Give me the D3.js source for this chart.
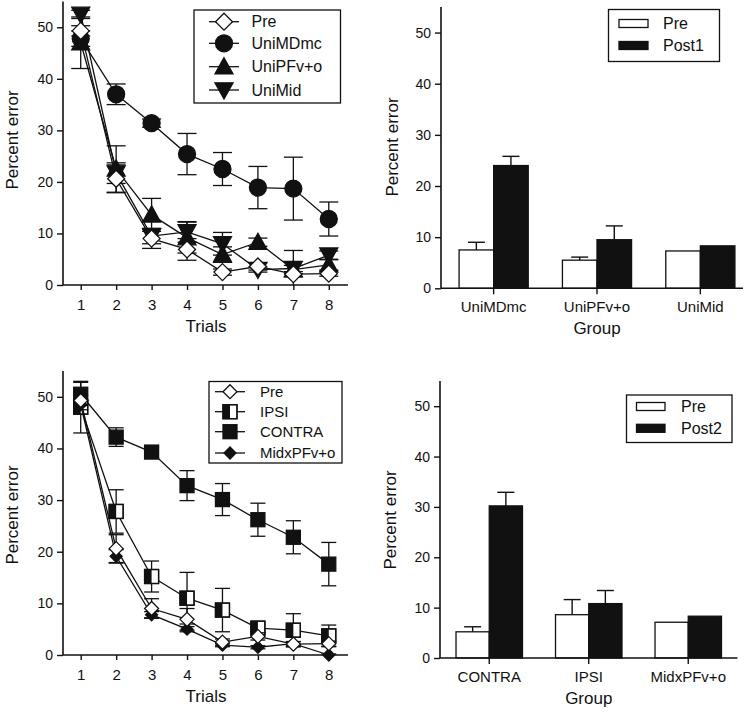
<!DOCTYPE html>
<html><head><meta charset="utf-8">
<script src="https://cdn.jsdelivr.net/npm/d3@7"></script>
<style>
body{margin:0;background:#fff}
text{font-family:"Liberation Sans",Arial,Helvetica,sans-serif;fill:#111}
</style>
</head><body>
<svg id="c" width="752" height="725"></svg>
<script>
// ---------- data ----------
const trials = [1,2,3,4,5,6,7,8];
const yTicks = [0,10,20,30,40,50];

// Panel A (top-left)
const seriesA = ["Pre","UniMDmc","UniPFv+o","UniMid"];
const preMean   = [49.3, 20.6, 9.0, 6.9, 2.5, 3.6, 2.1, 2.2];
const preErr    = [1.0, 2.7, 1.9, 2.1, 0.6, 0.7, 0.5, 0.5];
const mdmcMean  = [47.8, 37.0, 31.4, 25.4, 22.5, 18.9, 18.7, 12.8];
const mdmcErr   = [1.5, 2.0, 0.8, 4.0, 3.2, 4.1, 6.1, 3.3];
const pfvoMean  = [47.0, 22.5, 13.6, 9.2, 5.9, 8.3, 3.0, 3.9];
const pfvoErr   = [5.0, 4.5, 3.2, 3.0, 1.5, 0.8, 0.8, 1.0];
const midMean   = [52.5, 21.7, 9.5, 10.3, 8.0, 3.0, 3.2, 5.8];
const midErr    = [0.8, 2.0, 1.5, 2.0, 2.2, 0.5, 3.5, 0.8];

// Panel C (bottom-left)
const seriesC = ["Pre","IPSI","CONTRA","MidxPFv+o"];
const ipsiMean   = [48.0, 27.8, 15.2, 11.0, 8.7, 5.2, 4.8, 3.7];
const ipsiErr    = [5.0, 4.2, 3.0, 5.0, 4.2, 0.8, 3.2, 2.1];
const contraMean = [50.5, 42.2, 39.3, 32.8, 30.1, 26.2, 22.8, 17.6];
const contraErr  = [2.3, 1.8, 1.0, 2.9, 3.1, 3.2, 3.2, 4.2];
const midxMean   = [48.5, 19.1, 7.8, 5.0, 1.9, 1.5, 2.2, 0.0];
const midxErr    = [1.0, 1.3, 0.6, 0.5, 0.3, 0.3, 0.4, 0.2];

// Panel B (top-right)
const groupsB = ["UniMDmc","UniPFv+o","UniMid"];
const barsB = ["Pre","Post1"];
const preB  = [7.5, 5.5, 7.3];
const preBErr = [1.5, 0.6, 0];
const post1 = [24.0, 9.5, 8.3];
const post1Err = [1.8, 2.7, 0];

// Panel D (bottom-right)
const groupsD = ["CONTRA","IPSI","MidxPFv+o"];
const barsD = ["Pre","Post2"];
const preD  = [5.2, 8.6, 7.1];
const preDErr = [1.0, 3.0, 0];
const post2 = [30.2, 10.8, 8.3];
const post2Err = [2.7, 2.6, 0];

// ---------- helpers ----------
const svg = d3.select("#c");
const INK = "#111";

function marker(g, type, cx, cy, s) {
  const m = g.append("g").attr("transform", `translate(${cx},${cy})`);
  const st = (sel, fill) => sel.attr("fill", fill).attr("stroke", INK).attr("stroke-width", 1.3);
  if (type === "diamondOpen") st(m.append("path").attr("d", `M0,${-s}L${s},0L0,${s}L${-s},0Z`), "#fff");
  else if (type === "diamondFill") st(m.append("path").attr("d", `M0,${-s}L${s},0L0,${s}L${-s},0Z`), INK);
  else if (type === "circle") st(m.append("circle").attr("r", s), INK);
  else if (type === "triUp") st(m.append("path").attr("d", `M0,${-s}L${s},${s*0.8}L${-s},${s*0.8}Z`), INK);
  else if (type === "triDown") st(m.append("path").attr("d", `M0,${s}L${s},${-s*0.8}L${-s},${-s*0.8}Z`), INK);
  else if (type === "square") st(m.append("rect").attr("x", -s).attr("y", -s).attr("width", 2*s).attr("height", 2*s), INK);
  else if (type === "halfSquare") {
    st(m.append("rect").attr("x", -s).attr("y", -s).attr("width", 2*s).attr("height", 2*s), "#fff");
    m.append("rect").attr("x", -s).attr("y", -s).attr("width", s).attr("height", 2*s).attr("fill", INK);
    m.append("rect").attr("x", -s).attr("y", -s).attr("width", 2*s).attr("height", 2*s)
      .attr("fill", "none").attr("stroke", INK).attr("stroke-width", 1.3);
  }
}

function yAxis(g, y, xPos) {
  const a = g.append("g").attr("transform", `translate(${xPos},0)`)
    .call(d3.axisLeft(y).tickValues(yTicks).tickSize(6).tickPadding(4));
  a.select(".domain").remove();
  a.selectAll(".tick line").attr("stroke", INK).attr("stroke-width", 1.4);
  a.selectAll(".tick text").style("font-size", "14px").attr("fill", INK);
  g.append("line").attr("x1", xPos).attr("x2", xPos)
    .attr("y1", y(0)).attr("y2", y(55)).attr("stroke", INK).attr("stroke-width", 1.6);
}

function yTitle(g, x, cy) {
  g.append("text").attr("transform", `translate(${x},${cy}) rotate(-90)`)
    .attr("text-anchor", "middle").style("font-size", "17px").text("Percent error");
}

function lineChart(cfg) {
  const g = svg.append("g");
  const x = d3.scaleLinear().domain([0.5, 8.5]).range([63, 346.5]);
  const y = d3.scaleLinear().domain([0, 55]).range(cfg.yRange);
  yAxis(g, y, 63);
  const xa = g.append("g").attr("transform", `translate(0,${y(0)})`)
    .call(d3.axisBottom(x).tickValues(trials).tickSize(5).tickPadding(9));
  xa.select(".domain").remove();
  xa.selectAll(".tick line").attr("stroke", INK).attr("stroke-width", 1.4);
  xa.selectAll(".tick text").style("font-size", "15px").attr("fill", INK);
  g.append("line").attr("x1", 63).attr("x2", 348).attr("y1", y(0)).attr("y2", y(0))
    .attr("stroke", INK).attr("stroke-width", 1.6);
  g.append("text").attr("x", 206).attr("y", y(0) + 46.5).attr("text-anchor", "middle")
    .style("font-size", "17px").text("Trials");
  yTitle(g, 18, cfg.titleY);

  const line = d3.line().x((d, i) => x(trials[i])).y(d => y(d));
  cfg.series.forEach(s => {
    const sg = g.append("g");
    sg.append("path").attr("d", line(s.mean)).attr("fill", "none")
      .attr("stroke", INK).attr("stroke-width", 1.3);
    s.mean.forEach((m, i) => {
      const e = s.err[i];
      if (e > 0) {
        const cx = x(trials[i]);
        sg.append("line").attr("x1", cx).attr("x2", cx).attr("y1", y(Math.max(0, m - e))).attr("y2", y(m + e))
          .attr("stroke", INK).attr("stroke-width", 1.3);
        [m - e, m + e].forEach(v => {
          if (v < 0) return;
          sg.append("line").attr("x1", cx - cfg.cap).attr("x2", cx + cfg.cap).attr("y1", y(v)).attr("y2", y(v))
            .attr("stroke", INK).attr("stroke-width", 1.3);
        });
      }
    });
    s.mean.forEach((m, i) => marker(sg, s.shape, x(trials[i]), y(m), s.size));
  });

  // legend
  const L = cfg.legend;
  g.append("rect").attr("x", L.x0).attr("y", L.y0).attr("width", L.x1 - L.x0).attr("height", L.y1 - L.y0)
    .attr("fill", "#fff").attr("stroke", INK).attr("stroke-width", 1.3);
  cfg.legendOrder.forEach((s, k) => {
    const ry = L.rows[k];
    g.append("line").attr("x1", L.lx0).attr("x2", L.lx1).attr("y1", ry).attr("y2", ry)
      .attr("stroke", INK).attr("stroke-width", 1.3);
    marker(g, s.shape, (L.lx0 + L.lx1) / 2, ry, s.size);
    g.append("text").attr("x", L.tx).attr("y", ry).attr("dy", "0.36em")
      .style("font-size", L.fs + "px").text(s.name);
  });
}

function barChart(cfg) {
  const g = svg.append("g");
  const y = d3.scaleLinear().domain([0, 55]).range(cfg.yRange);
  const x = d3.scaleBand().domain(cfg.groups).range([cfg.x0, cfg.xEnd])
    .paddingInner(cfg.pi).paddingOuter(cfg.po);
  const bw = x.bandwidth() / 2;
  const cap = 8.5;
  cfg.groups.forEach((grp, i) => {
    [[cfg.pre[i], cfg.preErr[i], "#fff", 0], [cfg.post[i], cfg.postErr[i], INK, 1]].forEach(([v, e, fill, k]) => {
      const bx = x(grp) + k * bw;
      const cx = bx + bw / 2;
      if (e > 0) {
        g.append("line").attr("x1", cx).attr("x2", cx).attr("y1", y(v)).attr("y2", y(v + e))
          .attr("stroke", INK).attr("stroke-width", 1.4);
        g.append("line").attr("x1", cx - cap).attr("x2", cx + cap).attr("y1", y(v + e)).attr("y2", y(v + e))
          .attr("stroke", INK).attr("stroke-width", 1.4);
      }
      g.append("rect").attr("x", bx).attr("y", y(v)).attr("width", bw).attr("height", y(0) - y(v))
        .attr("fill", fill).attr("stroke", INK).attr("stroke-width", 1.3);
    });
  });
  yAxis(g, y, cfg.x0);
  const xa = g.append("g").attr("transform", `translate(0,${y(0)})`)
    .call(d3.axisBottom(x).tickSize(6).tickPadding(7));
  xa.select(".domain").remove();
  xa.selectAll(".tick line").attr("stroke", INK).attr("stroke-width", 1.4);
  xa.selectAll(".tick text").style("font-size", "15px").attr("fill", INK);
  g.append("line").attr("x1", cfg.x0).attr("x2", cfg.axisEnd).attr("y1", y(0)).attr("y2", y(0))
    .attr("stroke", INK).attr("stroke-width", 1.6);
  g.append("text").attr("x", x(cfg.groups[1]) + x.bandwidth() / 2).attr("y", y(0) + 46)
    .attr("text-anchor", "middle").style("font-size", "17px").text("Group");
  yTitle(g, cfg.titleX, cfg.titleY);

  const L = cfg.legend;
  g.append("rect").attr("x", L.x0).attr("y", L.y0).attr("width", L.x1 - L.x0).attr("height", L.y1 - L.y0)
    .attr("fill", "#fff").attr("stroke", INK).attr("stroke-width", 1.3);
  cfg.names.forEach((n, k) => {
    const ry = L.rows[k];
    g.append("rect").attr("x", L.sx0).attr("y", ry - 4).attr("width", L.sx1 - L.sx0).attr("height", 8)
      .attr("fill", k === 0 ? "#fff" : INK).attr("stroke", INK).attr("stroke-width", 1.3);
    g.append("text").attr("x", L.tx).attr("y", ry).attr("dy", "0.36em")
      .style("font-size", "16px").text(n);
  });
}

// ---------- panels ----------
lineChart({
  yRange: [285, 1.5], titleY: 140, cap: 9.5,
  series: [
    {name: "UniMDmc", mean: mdmcMean, err: mdmcErr, shape: "circle", size: 8.5},
    {name: "UniPFv+o", mean: pfvoMean, err: pfvoErr, shape: "triUp", size: 9},
    {name: "UniMid", mean: midMean, err: midErr, shape: "triDown", size: 9},
    {name: "Pre", mean: preMean, err: preErr, shape: "diamondOpen", size: 8.5}
  ],
  legendOrder: [
    {name: seriesA[0], shape: "diamondOpen", size: 8.5},
    {name: seriesA[1], shape: "circle", size: 8.5},
    {name: seriesA[2], shape: "triUp", size: 9},
    {name: seriesA[3], shape: "triDown", size: 9}
  ],
  legend: {x0: 194, x1: 340.5, y0: 10, y1: 103, rows: [21.7, 43.3, 66.7, 90], lx0: 209, lx1: 239, tx: 251.5, fs: 16}
});

lineChart({
  yRange: [655, 371], titleY: 515, cap: 7.5,
  series: [
    {name: "CONTRA", mean: contraMean, err: contraErr, shape: "square", size: 7},
    {name: "IPSI", mean: ipsiMean, err: ipsiErr, shape: "halfSquare", size: 7},
    {name: "MidxPFv+o", mean: midxMean, err: midxErr, shape: "diamondFill", size: 6},
    {name: "Pre", mean: preMean, err: preErr, shape: "diamondOpen", size: 7}
  ],
  legendOrder: [
    {name: seriesC[0], shape: "diamondOpen", size: 7},
    {name: seriesC[1], shape: "halfSquare", size: 7},
    {name: seriesC[2], shape: "square", size: 7},
    {name: seriesC[3], shape: "diamondFill", size: 6}
  ],
  legend: {x0: 209, x1: 342, y0: 381.5, y1: 463, rows: [391.7, 411.7, 431.7, 453], lx0: 215, lx1: 245, tx: 260, fs: 15}
});

barChart({
  yRange: [288.3, 7], groups: groupsB, names: barsB,
  pre: preB, preErr: preBErr, post: post1, postErr: post1Err,
  x0: 441, xEnd: 753, pi: 0.331, po: 0.175, axisEnd: 743,
  titleX: 398, titleY: 147,
  legend: {x0: 608.5, x1: 719.5, y0: 9.5, y1: 61.5, rows: [23.5, 45.5], sx0: 619, sx1: 648, tx: 663}
});

barChart({
  yRange: [658, 381], groups: groupsD, names: barsD,
  pre: preD, preErr: preDErr, post: post2, postErr: post2Err,
  x0: 440, xEnd: 737.5, pi: 0.332, po: 0.161, axisEnd: 737.5,
  titleX: 396, titleY: 520,
  legend: {x0: 626.5, x1: 732, y0: 395, y1: 442.5, rows: [406.5, 428.3], sx0: 636.5, sx1: 665, tx: 681}
});
</script>
</body></html>
